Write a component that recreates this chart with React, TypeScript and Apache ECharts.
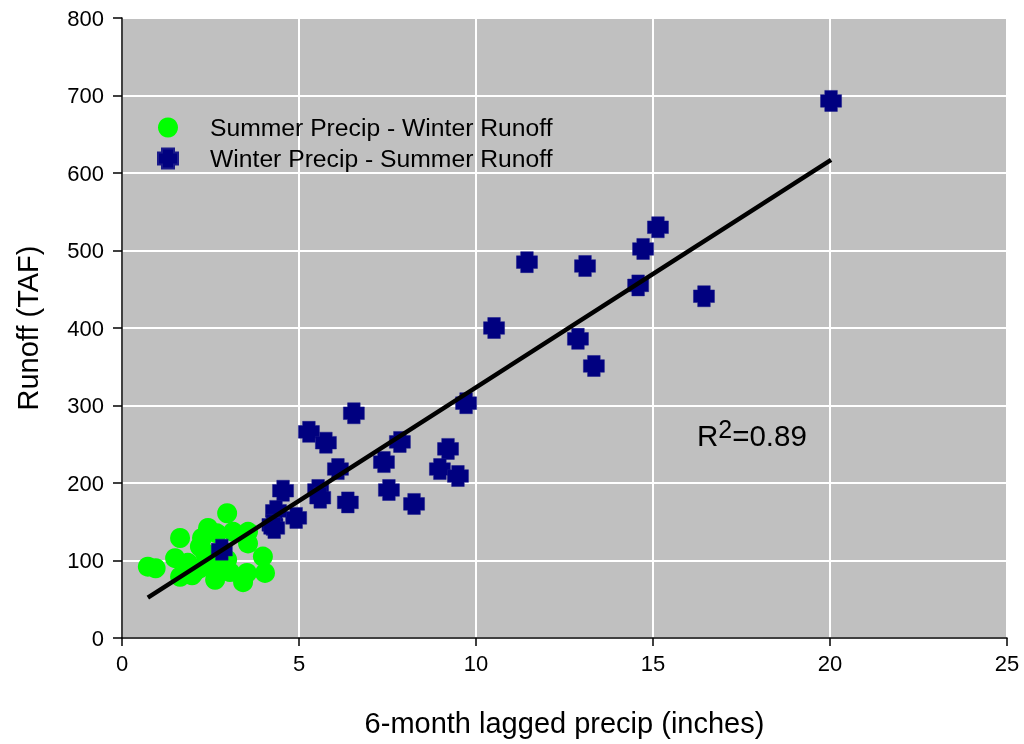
import React, { useEffect, useRef } from "react";
import * as echarts from "echarts";

const summerWinter: [number, number][] = [
  [0.73, 92], [0.95, 90], [1.64, 129], [2.97, 161], [2.43, 142], [2.26, 129],
  [1.5, 103], [1.86, 97], [1.64, 79], [1.98, 81], [2.34, 110], [2.68, 135],
  [3.14, 137], [3.56, 137], [3.56, 122], [3.98, 105], [4.04, 84], [3.53, 84],
  [3.42, 72], [2.63, 75], [3.05, 85], [2.49, 92], [2.2, 90], [2.77, 97],
  [2.97, 101], [2.2, 118], [2.05, 85],
];

const winterSummer: [number, number][] = [
  [20.03, 693], [15.14, 530], [14.72, 502], [14.58, 455], [16.44, 441],
  [11.44, 485], [13.08, 480], [10.51, 400], [12.88, 386], [13.33, 351],
  [9.72, 303], [6.55, 290], [5.28, 266], [5.76, 252], [7.85, 253],
  [6.1, 218], [7.4, 227], [9.21, 244], [8.98, 218], [9.49, 209],
  [4.55, 190], [7.54, 191], [5.54, 191], [5.6, 181], [6.38, 175],
  [8.25, 173], [4.92, 155], [4.35, 164], [4.25, 146], [4.3, 142], [2.82, 114],
];

const trendLine: [number, number][] = [[0.73, 52], [20.03, 617]];

const xTicks = [0, 5, 10, 15, 20, 25];
const yTicks = [0, 100, 200, 300, 400, 500, 600, 700, 800];

const legendNames = ["Summer Precip - Winter Runoff", "Winter Precip - Summer Runoff"];
const r2Label = "0.89";

const crossPath =
  "path://M-3,-5L3,-5L3,-3L5,-3L5,3L3,3L3,5L-3,5L-3,3L-5,3L-5,-3L-3,-3Z";

export default function App() {
  const ref = useRef<HTMLDivElement>(null);
  useEffect(() => {
    if (!ref.current) return;
    const chart = echarts.init(ref.current, undefined, { renderer: "svg" });
    const font = "Arial, 'Liberation Sans', sans-serif";
    chart.setOption({
      animation: false,
      textStyle: { fontFamily: font },
      grid: {
        left: 122, top: 18, right: 17, bottom: 106,
        show: true, backgroundColor: "#c0c0c0", borderColor: "#000", borderWidth: 1,
      },
      legend: {
        orient: "vertical",
        left: 157,
        top: 115,
        padding: 0,
        itemWidth: 20,
        itemHeight: 20,
        itemGap: 6,
        data: legendNames,
        textStyle: { fontSize: 24.7, color: "#000", fontFamily: font, padding: [0, 0, 0, 27] },
      },
      xAxis: {
        type: "value",
        min: xTicks[0],
        max: xTicks[xTicks.length - 1],
        interval: 5,
        name: "6-month lagged precip (inches)",
        nameLocation: "middle",
        nameGap: 70,
        nameTextStyle: { fontSize: 29, color: "#000", fontFamily: font },
        axisLine: { show: true, onZero: false, lineStyle: { color: "#000", width: 1.5 } },
        axisTick: { show: true, length: 8, lineStyle: { color: "#000", width: 1.5 } },
        axisLabel: { fontSize: 22, color: "#000", margin: 14, fontFamily: font },
        splitLine: { show: true, lineStyle: { color: "#fff", width: 2 } },
      },
      yAxis: {
        type: "value",
        min: yTicks[0],
        max: yTicks[yTicks.length - 1],
        interval: 100,
        name: "Runoff (TAF)",
        nameLocation: "middle",
        nameRotate: 90,
        nameGap: 80,
        nameTextStyle: { fontSize: 29, color: "#000", fontFamily: font },
        axisLine: { show: true, onZero: false, lineStyle: { color: "#000", width: 1.5 } },
        axisTick: { show: true, length: 9, lineStyle: { color: "#000", width: 1.5 } },
        axisLabel: { fontSize: 22, color: "#000", margin: 18, fontFamily: font },
        splitLine: { show: true, lineStyle: { color: "#fff", width: 2 } },
      },
      series: [
        {
          name: legendNames[1],
          type: "scatter",
          data: winterSummer,
          symbol: crossPath,
          symbolSize: 21,
          itemStyle: { color: "#000080", borderColor: "#1a1a8a", borderWidth: 0.5, opacity: 1 },
          z: 3,
        },
        {
          name: legendNames[0],
          type: "scatter",
          data: summerWinter,
          symbol: "circle",
          symbolSize: 20,
          itemStyle: { color: "#00ff00", opacity: 1 },
          z: 2,
        },
        {
          name: "trend",
          type: "line",
          data: trendLine,
          symbol: "none",
          lineStyle: { color: "#000", width: 4.5 },
          z: 4,
        },
      ],
      graphic: [
        {
          type: "text",
          left: 697,
          top: 416,
          z: 10,
          style: {
            text: "{a|R}{b|2}{a|=" + r2Label + "}",
            fill: "#000",
            rich: {
              a: { fontSize: 29.5, fontFamily: font, fill: "#000" },
              b: { fontSize: 25, fontFamily: font, fill: "#000", padding: [0, 0, 14, 0] },
            },
          },
        },
      ],
    });
    return () => chart.dispose();
  }, []);
  return (
    <div
      ref={ref}
      style={{ position: "fixed", left: 0, top: 0, width: 1024, height: 744 }}
    />
  );
}
